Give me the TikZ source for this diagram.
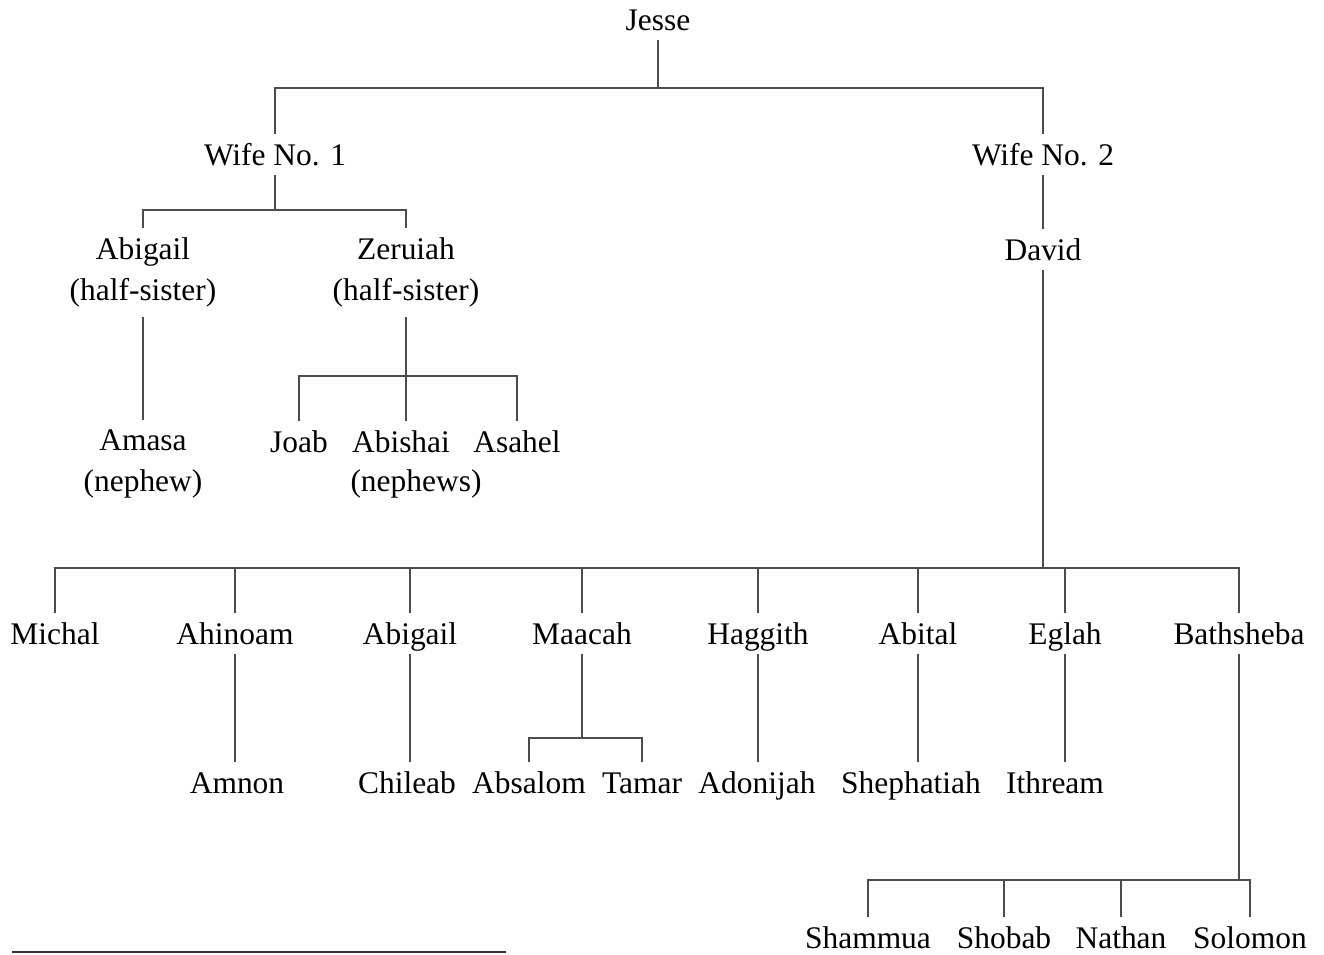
\documentclass[tikz,border=0pt]{standalone}
\usepackage{fontspec}
\setmainfont{Liberation Serif}
\usetikzlibrary{arrows}

\begin{document}
\begin{tikzpicture}[
            x = 0.02cm, % one unit = one pixel of the page
            y = -0.02cm, % rows are counted downwards
            font = \fontsize{17.9}{22.8}\selectfont
        ]

        \tikzstyle{person}=[
            inner xsep = 0pt,
            inner ysep = 0.2cm,
            text height = 0.42cm,
            text depth = 0pt,
            anchor = base
        ]
        % two lines: the base anchor sits on the last line
        \tikzstyle{couple}=[
            align = center,
            inner xsep = 0pt,
            inner ysep = 0.2cm,
            anchor = base
        ]
        \tikzstyle{link}=[
            draw = black!70,
            line width = 1.1pt
        ]

        \useasboundingbox (0,0) rectangle (1324,954);

        % Jesse and his wives
        \node[person] (jesse) at (658,30) {Jesse};
        \node[person] (wife1) at (275,165) {Wife No. 1};
        \node[person] (wife2) at (1043,165) {Wife No. 2};

        \node[couple] (abigail) at (143,300) {Abigail\\(half-sister)};
        \node[couple] (zeruiah) at (406,300) {Zeruiah\\(half-sister)};
        \node[person] (david) at (1043,260) {David};

        \node[couple] (amasa) at (143,491) {Amasa\\(nephew)};
        \node[person] (joab) at (299,452) {Joab};
        \node[person] (abishai) at (401,452) {Abishai};
        \node[person] (asahel) at (517,452) {Asahel};
        \node[person] (nephews) at (416,491) {(nephews)};

        % David's wives
        \node[person] (michal) at (55,644) {Michal};
        \node[person] (ahinoam) at (235,644) {Ahinoam};
        \node[person] (abigail2) at (410,644) {Abigail};
        \node[person] (maacah) at (582,644) {Maacah};
        \node[person] (haggith) at (758,644) {Haggith};
        \node[person] (abital) at (918,644) {Abital};
        \node[person] (eglah) at (1065,644) {Eglah};
        \node[person] (bathsheba) at (1239,644) {Bathsheba};

        % their children
        \node[person] (amnon) at (237,793) {Amnon};
        \node[person] (chileab) at (407,793) {Chileab};
        \node[person] (absalom) at (529,793) {Absalom};
        \node[person] (tamar) at (642,793) {Tamar};
        \node[person] (adonijah) at (757,793) {Adonijah};
        \node[person] (shephatiah) at (911,793) {Shephatiah};
        \node[person] (ithream) at (1055,793) {Ithream};

        \node[person] (shammua) at (868,948) {Shammua};
        \node[person] (shobab) at (1004,948) {Shobab};
        \node[person] (nathan) at (1121,948) {Nathan};
        \node[person] (solomon) at (1250,948) {Solomon};

        % forks
        \coordinate (forkJ) at (658,88);
        \coordinate (forkW) at (275,210);
        \coordinate (forkZ) at (406,376);
        \coordinate (forkD) at (1043,568);
        \coordinate (forkM) at (582,738);
        \coordinate (forkB) at (1239,880);

        \draw[link] (jesse) -- (forkJ);
        \draw[link] (wife1) -- (wife1 |- forkJ) -- (wife2 |- forkJ) -- (wife2);

        \draw[link] (wife1) -- (forkW);
        \draw[link] (abigail) -- (abigail |- forkW) -- (zeruiah |- forkW) -- (zeruiah);
        \draw[link] (wife2) -- (david);

        \draw[link] (abigail) -- (abigail |- amasa.north);
        \draw[link] (zeruiah) -- (zeruiah |- abishai.north);
        \draw[link] (joab) -- (joab |- forkZ) -- (asahel |- forkZ) -- (asahel);

        \draw[link] (david) -- (forkD);
        \draw[link] (michal) -- (michal |- forkD) -- (bathsheba |- forkD) -- (bathsheba);
        \foreach \w in {ahinoam, abigail2, maacah, haggith, abital, eglah}
            \draw[link] (\w) -- (\w |- forkD);

        \draw[link] (ahinoam) -- (ahinoam |- amnon.north);
        \draw[link] (abigail2) -- (abigail2 |- chileab.north);
        \draw[link] (maacah) -- (forkM);
        \draw[link] (absalom) -- (absalom |- forkM) -- (tamar |- forkM) -- (tamar);
        \draw[link] (haggith) -- (haggith |- adonijah.north);
        \draw[link] (abital) -- (abital |- shephatiah.north);
        \draw[link] (eglah) -- (eglah |- ithream.north);

        \draw[link] (bathsheba) -- (forkB);
        \draw[link] (shammua) -- (shammua |- forkB) -- (solomon |- forkB) -- (solomon);
        \foreach \s in {shobab, nathan}
            \draw[link] (\s) -- (\s |- forkB);

        % rule at the foot of the page
        \draw[draw = black!80, line width = 1.4pt] (12,952) -- (506,952);

\end{tikzpicture}
\end{document}
